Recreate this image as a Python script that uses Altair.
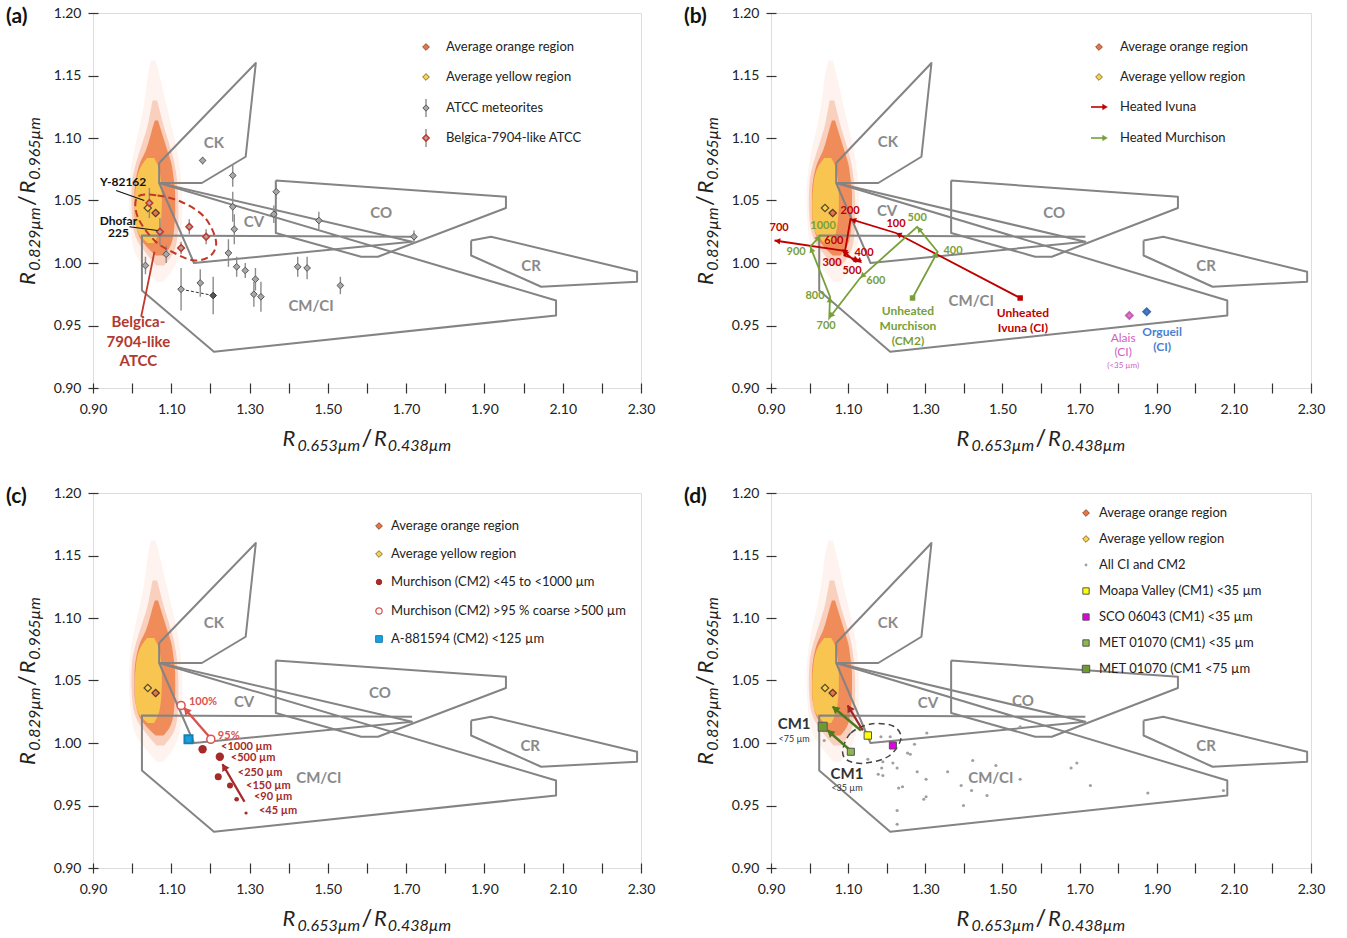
import math
import altair as alt
import pandas as pd

FONT = "Lato"
W_L, W_R, H = 548, 540, 375
XT = [0.9, 1.0, 1.1, 1.2, 1.3, 1.4, 1.5, 1.6, 1.7, 1.8, 1.9, 2.0, 2.1, 2.2, 2.3]
YT = [0.90, 0.95, 1.00, 1.05, 1.10, 1.15, 1.20]

XS = alt.Scale(domain=[0.9, 2.3], nice=False, zero=False)
YS = alt.Scale(domain=[0.9, 1.2], nice=False, zero=False)
XAX = alt.Axis(values=XT, labelExpr="round(datum.value*10) % 2 == 1 ? format(datum.value, '.2f') : ''",
               tickSize=10, offset=-5, domain=False, grid=False, title=None, labelFontSize=14,
               labelFont=FONT, labelColor="#222", tickColor="#333", tickWidth=1.2, labelPadding=9,
               labelFlush=False, labelOverlap=False)
YAX = alt.Axis(values=YT, format=".2f", tickSize=10, offset=-5, domain=False, grid=False, title=None,
               labelFontSize=14, labelFont=FONT, labelColor="#222", tickColor="#333", tickWidth=1.2,
               labelPadding=7, labelFlush=False, labelOverlap=False)

# ---------------- common data: spectral cloud ----------------
halo_y = [0.985, 0.995, 1.010, 1.030, 1.050, 1.070, 1.090, 1.110, 1.130, 1.150, 1.162]
halo_xl = [1.062, 1.035, 1.005, 0.995, 0.992, 0.995, 1.005, 1.020, 1.032, 1.040, 1.048]
halo_xr = [1.080, 1.105, 1.122, 1.128, 1.128, 1.124, 1.115, 1.100, 1.085, 1.070, 1.060]
mid_y = [0.998, 1.008, 1.020, 1.035, 1.050, 1.065, 1.080, 1.095, 1.108, 1.120, 1.130]
mid_xl = [1.062, 1.035, 1.010, 1.000, 0.998, 1.000, 1.010, 1.025, 1.038, 1.046, 1.052]
mid_xr = [1.082, 1.105, 1.115, 1.118, 1.118, 1.115, 1.108, 1.095, 1.082, 1.072, 1.064]
org_y = [1.006, 1.012, 1.020, 1.030, 1.040, 1.055, 1.068, 1.080, 1.090, 1.100, 1.108, 1.114]
org_xl = [1.060, 1.040, 1.020, 1.010, 1.006, 1.006, 1.010, 1.020, 1.035, 1.045, 1.052, 1.058]
org_xr = [1.080, 1.095, 1.104, 1.108, 1.110, 1.110, 1.106, 1.100, 1.090, 1.080, 1.072, 1.066]
yel_y = [1.016, 1.022, 1.030, 1.040, 1.050, 1.060, 1.070, 1.078, 1.084]
yel_xl = [1.040, 1.020, 1.010, 1.007, 1.007, 1.009, 1.014, 1.024, 1.038]
yel_xr = [1.056, 1.066, 1.072, 1.075, 1.076, 1.075, 1.072, 1.066, 1.056]

avg_names = ["orange", "yellow"]
avg_x = [1.060, 1.040]
avg_y = [1.040, 1.044]

# ---------------- classification fields ----------------
poly = {
    "CK": ([1.069, 1.316, 1.290, 1.178, 1.069, 1.069], [1.080, 1.160, 1.085, 1.064, 1.064, 1.080]),
    "CV": ([1.069, 1.158, 1.715, 1.069], [1.064, 1.000, 1.017, 1.064]),
    "CMCI": ([1.069, 2.083, 2.083, 1.209, 1.025, 1.025, 1.715],
             [1.064, 0.970, 0.958, 0.929, 0.978, 1.022, 1.021]),
    "CO": ([1.367, 1.955, 1.955, 1.628, 1.585, 1.367, 1.367], [1.066, 1.053, 1.044, 1.005, 1.005, 1.024, 1.066]),
    "CR": ([1.866, 1.917, 2.290, 2.290, 2.045, 1.866, 1.866], [1.018, 1.021, 0.993, 0.985, 0.981, 1.006, 1.018]),
}
region_names = ["CK", "CV", "CO", "CR", "CM/CI"]
region_pos = {
    "a": ([1.209, 1.311, 1.636, 2.019, 1.457], [1.096, 1.033, 1.040, 0.998, 0.966]),
    "b": ([1.203, 1.201, 1.634, 2.028, 1.419], [1.097, 1.042, 1.040, 0.998, 0.970]),
    "c": ([1.209, 1.286, 1.633, 2.017, 1.477], [1.096, 1.033, 1.040, 0.998, 0.972]),
    "d": ([1.203, 1.307, 1.553, 2.028, 1.470], [1.096, 1.032, 1.034, 0.998, 0.972]),
}

# ---------------- panel (a) ----------------
atcc_x = [1.180, 1.257, 1.368, 1.362, 1.477, 1.257, 1.261, 1.246, 1.267, 1.289, 1.315, 1.311, 1.329, 1.423,
          1.447, 1.532, 1.720, 1.087, 1.034, 1.174, 1.125, 1.207]
atcc_y = [1.082, 1.070, 1.057, 1.039, 1.034, 1.045, 1.027, 1.008, 0.997, 0.994, 0.987, 0.975, 0.973, 0.997,
          0.996, 0.982, 1.021, 1.007, 0.998, 0.984, 0.979, 0.974]
atcc_e = [0.003, 0.009, 0.006, 0.007, 0.007, 0.012, 0.012, 0.011, 0.008, 0.006, 0.009, 0.010, 0.012, 0.008,
          0.009, 0.007, 0.005, 0.007, 0.007, 0.011, 0.017, 0.015]
atcc_dark = [0] * 21 + [1]
belg_x = [1.044, 1.071, 1.146, 1.189, 1.125]
belg_y = [1.048, 1.025, 1.029, 1.021, 1.012]
belg_e = [0.012, 0.011, 0.006, 0.006, 0.005]
ell_a_x = [1.014, 1.065, 1.125, 1.184, 1.214, 1.201, 1.159, 1.108, 1.057, 1.014]
ell_a_y = [1.053, 1.054, 1.049, 1.037, 1.018, 1.006, 1.002, 1.008, 1.018, 1.037]

# ---------------- panel (b) ----------------
ivu_t = ["Unheated", "100", "200", "300", "400", "500", "600", "700"]
ivu_x = [1.546, 1.224, 1.106, 1.090, 1.129, 1.119, 1.086, 0.909]
ivu_y = [0.972, 1.024, 1.035, 1.006, 1.002, 1.001, 1.010, 1.018]
ivu_lx = [None, 1.224, 1.105, 1.058, 1.141, 1.110, 1.063, 0.921]
ivu_ly = [None, 1.031, 1.042, 1.000, 1.008, 0.994, 1.018, 1.028]
mur_t = ["Unheated", "400", "500", "600", "700", "800", "900", "1000"]
mur_x = [1.267, 1.332, 1.279, 1.131, 1.051, 1.053, 1.002, 1.028]
mur_y = [0.972, 1.009, 1.029, 0.988, 0.956, 0.973, 1.013, 1.022]
mur_lx = [None, 1.372, 1.279, 1.172, 1.043, 1.014, 0.965, 1.035]
mur_ly = [None, 1.010, 1.036, 0.986, 0.950, 0.974, 1.009, 1.030]
ci_names = ["Alais", "Orgueil"]
ci_x = [1.829, 1.874]
ci_y = [0.958, 0.961]

# ---------------- panel (c) ----------------
mfine_t = ["<1000 µm", "<500 µm", "<250 µm", "<150 µm", "<90 µm", "<45 µm"]
mfine_x = [1.180, 1.224, 1.220, 1.250, 1.267, 1.291]
mfine_y = [0.995, 0.989, 0.973, 0.966, 0.955, 0.944]
mfine_s = [70, 70, 50, 36, 22, 10]
mfine_lx = [1.227, 1.252, 1.270, 1.291, 1.311, 1.324]
mfine_ly = [0.997, 0.988, 0.976, 0.966, 0.957, 0.946]
mcoarse_t = ["100%", "95%"]
mcoarse_x = [1.125, 1.201]
mcoarse_y = [1.030, 1.003]
mcoarse_lx = [1.145, 1.219]
mcoarse_ly = [1.033, 1.006]
a88_x = [1.144]
a88_y = [1.003]

# ---------------- panel (d) ----------------
all_x = [1.038, 1.304, 1.185, 1.209, 1.272, 1.254, 1.261, 1.151, 1.190, 1.216, 1.187, 1.227, 1.178, 1.190,
         1.279, 1.358, 1.302, 1.423, 1.483, 1.546, 1.546, 1.393, 1.231, 1.241, 1.420, 1.460, 1.296, 1.302,
         1.399, 1.227, 1.227, 1.678, 1.693, 1.728, 1.877, 2.073]
all_y = [1.002, 1.008, 1.005, 1.005, 0.999, 0.992, 0.991, 0.987, 0.985, 0.984, 0.980, 0.980, 0.975, 0.974,
         0.977, 0.977, 0.971, 0.986, 0.982, 1.013, 0.971, 0.966, 0.964, 0.965, 0.962, 0.958, 0.955, 0.957,
         0.950, 0.946, 0.935, 0.980, 0.984, 0.966, 0.960, 0.962]
cm1_names = ["Moapa Valley", "SCO 06043", "MET 01070 <35", "MET 01070 <75"]
cm1_x = [1.151, 1.216, 1.107, 1.034]
cm1_y = [1.006, 0.998, 0.993, 1.013]
cm1_fill = ["#ffff00", "#e000e0", "#8db84a", "#6f9a32"]
cm1_size = [55, 50, 50, 80]
ell_d_x = [1.086, 1.107, 1.159, 1.216, 1.237, 1.206, 1.142, 1.097]
ell_d_y = [0.9944, 1.008, 1.0152, 1.0136, 1.0038, 0.9896, 0.9838, 0.9864]

ONE = pd.DataFrame({"a": [0]})


def xy(xf="x", yf="y"):
    return dict(x=alt.X(f"{xf}:Q", scale=XS, axis=XAX), y=alt.Y(f"{yf}:Q", scale=YS, axis=YAX))


def ptext(t, px, py, size=13, color="#222", weight="normal", align="left", style="normal",
          angle=0, dx=0, dy=0, baseline="middle"):
    return alt.Chart(ONE).mark_text(text=t, font=FONT, fontSize=size, color=color, fontWeight=weight,
                                    align=align, fontStyle=style, angle=angle, dx=dx, dy=dy,
                                    baseline=baseline).encode(x=alt.value(px), y=alt.value(py))


def psym(px, py, shape, size, fill, stroke, sw=1.0, angle=0):
    return alt.Chart(ONE).mark_point(shape=shape, size=size, filled=True, fill=fill, stroke=stroke,
                                     strokeWidth=sw, opacity=1, angle=angle).encode(
        x=alt.value(px), y=alt.value(py))


def prule(x1, y1, x2, y2, color, sw=1.5):
    return alt.Chart(ONE).mark_rule(color=color, strokeWidth=sw).encode(
        x=alt.value(x1), y=alt.value(y1), x2=alt.value(x2), y2=alt.value(y2))


CW = {"R": 0.63, ".": 0.25, "µ": 0.6, "m": 0.87}
RS, SS, GAP = 22, 16, 7


def tw(s, size):
    return sum(CW.get(c, 0.58) for c in s) * size


def xtitle(W):
    cx, by = W / 2, H + 58
    s1, s2 = "0.653µm", "0.438µm"
    return [
        ptext("/", cx, by, size=24, align="center", baseline="alphabetic"),
        ptext(s1, cx - GAP, by, size=SS, align="right", style="italic", dy=5, baseline="alphabetic"),
        ptext("R", cx - GAP - tw(s1, SS), by, size=RS, align="right", style="italic", baseline="alphabetic"),
        ptext("R", cx + GAP, by, size=RS, align="left", style="italic", baseline="alphabetic"),
        ptext(s2, cx + GAP + tw("R", RS), by, size=SS, align="left", style="italic", dy=5, baseline="alphabetic"),
    ]


def ytitle():
    bx, cy = -58, H / 2
    s1, s2 = "0.829µm", "0.965µm"
    return [
        ptext("/", bx, cy, size=24, align="center", angle=270, baseline="alphabetic"),
        ptext(s1, bx, cy, size=SS, align="right", style="italic", angle=270, dx=-GAP, dy=5, baseline="alphabetic"),
        ptext("R", bx, cy, size=RS, align="right", style="italic", angle=270, dx=-GAP - tw(s1, SS),
              baseline="alphabetic"),
        ptext("R", bx, cy, size=RS, align="left", style="italic", angle=270, dx=GAP, baseline="alphabetic"),
        ptext(s2, bx, cy, size=SS, align="left", style="italic", angle=270, dx=GAP + tw("R", RS), dy=5,
              baseline="alphabetic"),
    ]


def heads_df(xs, ys, W, back=3.0):
    sx, sy = W / 1.4, H / 0.3
    rows = []
    for i in range(1, len(xs)):
        ux = (xs[i] - xs[i - 1]) * sx
        uy = -(ys[i] - ys[i - 1]) * sy
        L = math.hypot(ux, uy)
        ang = math.degrees(math.atan2(ux, -uy)) % 360
        rows.append({"x": xs[i] - ux / L * back / sx, "y": ys[i] + uy / L * back / sy, "ang": ang})
    return pd.DataFrame(rows)


def arrow(xs, ys, W, color, sw=2.2, size=60):
    df = pd.DataFrame({"x": xs, "y": ys, "o": list(range(len(xs)))})
    line = alt.Chart(df).mark_line(color=color, strokeWidth=sw).encode(**xy(), order="o:Q")
    head = alt.Chart(heads_df(xs, ys, W)).mark_point(shape="triangle-up", filled=True, size=size, color=color,
                                                     opacity=1).encode(
        **xy(), angle=alt.Angle("ang:Q", scale=None))
    return [line, head]


def common(W, key):
    L = []
    for ys_, xl, xr, col, op in [(halo_y, halo_xl, halo_xr, "#f7b08a", 0.15),
                                 (mid_y, mid_xl, mid_xr, "#f29060", 0.35),
                                 (org_y, org_xl, org_xr, "#ef8048", 0.85),
                                 (yel_y, yel_xl, yel_xr, "#f8c850", 0.95)]:
        df = pd.DataFrame({"y": ys_, "xl": xl, "xr": xr})
        L.append(alt.Chart(df).mark_area(orient="horizontal", interpolate="monotone", color=col, opacity=op)
                 .encode(y=alt.Y("y:Q", scale=YS, axis=YAX), x=alt.X("xl:Q", scale=XS, axis=XAX), x2="xr:Q"))
    rows = []
    for name, (px_, py_) in poly.items():
        for i, (a, b) in enumerate(zip(px_, py_)):
            rows.append({"id": name, "o": i, "x": a, "y": b})
    L.append(alt.Chart(pd.DataFrame(rows)).mark_line(color="#848484", strokeWidth=2, strokeJoin="round")
             .encode(**xy(), detail="id:N", order="o:Q"))
    rx, ry = region_pos[key]
    L.append(alt.Chart(pd.DataFrame({"x": rx, "y": ry, "t": region_names}))
             .mark_text(font=FONT, fontSize=15, fontWeight="bold", color="#8a8a8a")
             .encode(**xy(), text="t:N"))
    return L


def avg_layers():
    df = pd.DataFrame({"x": avg_x, "y": avg_y, "n": avg_names})
    return [alt.Chart(df[df.n == "yellow"]).mark_point(shape="diamond", filled=True, size=55, fill="#f8d24e",
                                                       stroke="#5a4a2a", strokeWidth=1.2, opacity=1).encode(**xy()),
            alt.Chart(df[df.n == "orange"]).mark_point(shape="diamond", filled=True, size=55, fill="#e8744a",
                                                       stroke="#5a3a2a", strokeWidth=1.2, opacity=1).encode(**xy())]


def legend_avg(sx, tx, y0, y1):
    return [psym(sx, y0, "diamond", 45, "#e8744a", "#8a5030"),
            ptext("Average orange region", tx, y0),
            psym(sx, y1, "diamond", 45, "#f8d24e", "#8a7030"),
            ptext("Average yellow region", tx, y1)]


def finish(layers, W, tag):
    layers = layers + xtitle(W) + ytitle() + [ptext(tag, -87, 4, size=21, weight="bold", color="#111")]
    return alt.layer(*layers).properties(width=W, height=H)


# ---------- panel a ----------
A = common(W_L, "a")
da = pd.DataFrame({"x": atcc_x, "y": atcc_y, "lo": [a - e for a, e in zip(atcc_y, atcc_e)],
                   "hi": [a + e for a, e in zip(atcc_y, atcc_e)], "dark": atcc_dark})
db = pd.DataFrame({"x": belg_x, "y": belg_y, "lo": [a - e for a, e in zip(belg_y, belg_e)],
                   "hi": [a + e for a, e in zip(belg_y, belg_e)]})
A.append(alt.Chart(pd.DataFrame({"x": [atcc_x[20], atcc_x[21]], "y": [atcc_y[20], atcc_y[21]]}))
         .mark_line(color="#333", strokeWidth=1, strokeDash=[3, 2]).encode(**xy()))
A.append(alt.Chart(da).mark_rule(color="#8c8c8c", strokeWidth=1.4).encode(
    x=alt.X("x:Q", scale=XS, axis=XAX), y=alt.Y("lo:Q", scale=YS, axis=YAX), y2="hi:Q"))
A.append(alt.Chart(db).mark_rule(color="#8c8c8c", strokeWidth=1.4).encode(
    x=alt.X("x:Q", scale=XS, axis=XAX), y=alt.Y("lo:Q", scale=YS, axis=YAX), y2="hi:Q"))
ell = pd.DataFrame({"x": ell_a_x, "y": ell_a_y, "o": list(range(len(ell_a_x)))})
A.append(alt.Chart(ell).mark_line(color="#c0392b", strokeWidth=2, strokeDash=[7, 4],
                                  interpolate="cardinal-closed").encode(**xy(), order="o:Q"))
A += avg_layers()
A.append(alt.Chart(da[da.dark == 0]).mark_point(shape="diamond", filled=True, size=45, fill="#a8a8a8",
                                                stroke="#555", strokeWidth=1, opacity=1).encode(**xy()))
A.append(alt.Chart(da[da.dark == 1]).mark_point(shape="diamond", filled=True, size=45, fill="#555",
                                                stroke="#333", strokeWidth=1, opacity=1).encode(**xy()))
A.append(alt.Chart(db).mark_point(shape="diamond", filled=True, size=45, fill="#b0a0a0",
                                  stroke="#c0392b", strokeWidth=1.5, opacity=1).encode(**xy()))
ann_a = pd.DataFrame({"x": [0.959, 1.031, 0.993, 1.065, 1.023, 1.057],
                      "y": [1.058, 1.050, 1.029, 1.026, 0.957, 1.009],
                      "g": ["y", "y", "d", "d", "b", "b"], "c": ["k", "k", "k", "k", "r", "r"]})
A.append(alt.Chart(ann_a[ann_a.c == "k"]).mark_line(color="#111", strokeWidth=1.2).encode(**xy(), detail="g:N"))
A.append(alt.Chart(ann_a[ann_a.c == "r"]).mark_line(color="#c0392b", strokeWidth=1.8).encode(**xy(), detail="g:N"))
lab_a = pd.DataFrame({"x": [0.977, 0.965, 0.965], "y": [1.065, 1.034, 1.024], "t": ["Y-82162", "Dhofar", "225"]})
A.append(alt.Chart(lab_a).mark_text(font=FONT, fontSize=12, fontWeight="bold", color="#111").encode(**xy(), text="t:N"))
lab_b = pd.DataFrame({"x": [1.016, 1.016, 1.016], "y": [0.953, 0.937, 0.922],
                      "t": ["Belgica-", "7904-like", "ATCC"]})
A.append(alt.Chart(lab_b).mark_text(font=FONT, fontSize=15, fontWeight="bold", color="#b03a2e").encode(**xy(), text="t:N"))
A += legend_avg(333, 353, 34, 64)
A += [prule(333, 86, 333, 104, "#8c8c8c", 1.4), psym(333, 95, "diamond", 40, "#a8a8a8", "#555"),
      ptext("ATCC meteorites", 353, 95),
      prule(333, 116, 333, 134, "#8c8c8c", 1.4), psym(333, 125, "diamond", 40, "#b0a0a0", "#c0392b", 1.5),
      ptext("Belgica-7904-like ATCC", 353, 125)]
PA = finish(A, W_L, "(a)")

# ---------- panel b ----------
B = common(W_R, "b")
RED, GRN = "#c00000", "#77a03a"
B += arrow(ivu_x, ivu_y, W_R, RED, sw=1.8, size=40)
B += arrow(mur_x, mur_y, W_R, GRN, sw=1.8, size=40)
B.append(alt.Chart(pd.DataFrame({"x": [ivu_x[0]], "y": [ivu_y[0]]})).mark_point(
    shape="square", filled=True, size=30, color=RED, opacity=1).encode(**xy()))
B.append(alt.Chart(pd.DataFrame({"x": [mur_x[0]], "y": [mur_y[0]]})).mark_point(
    shape="square", filled=True, size=30, color=GRN, opacity=1).encode(**xy()))
B.append(alt.Chart(pd.DataFrame({"x": ivu_lx[1:], "y": ivu_ly[1:], "t": ivu_t[1:]})).mark_text(
    font=FONT, fontSize=11, fontWeight="bold", color=RED).encode(**xy(), text="t:N"))
B.append(alt.Chart(pd.DataFrame({"x": mur_lx[1:], "y": mur_ly[1:], "t": mur_t[1:]})).mark_text(
    font=FONT, fontSize=11, fontWeight="bold", color=GRN).encode(**xy(), text="t:N"))
B.append(alt.Chart(pd.DataFrame({"x": [1.255] * 3, "y": [0.962, 0.950, 0.938],
                                 "t": ["Unheated", "Murchison", "(CM2)"]})).mark_text(
    font=FONT, fontSize=12, fontWeight="bold", color=GRN).encode(**xy(), text="t:N"))
B.append(alt.Chart(pd.DataFrame({"x": [1.553] * 2, "y": [0.960, 0.948],
                                 "t": ["Unheated", "Ivuna (CI)"]})).mark_text(
    font=FONT, fontSize=12, fontWeight="bold", color=RED).encode(**xy(), text="t:N"))
dci = pd.DataFrame({"x": ci_x, "y": ci_y, "n": ci_names})
B.append(alt.Chart(dci[dci.n == "Alais"]).mark_point(shape="diamond", filled=True, size=45, fill="#e07ad0",
                                                     stroke="#c060b0", opacity=1).encode(**xy()))
B.append(alt.Chart(dci[dci.n == "Orgueil"]).mark_point(shape="diamond", filled=True, size=45, fill="#4a7fd0",
                                                       stroke="#3a6ab0", opacity=1).encode(**xy()))
B.append(alt.Chart(pd.DataFrame({"x": [1.813, 1.813], "y": [0.940, 0.929], "t": ["Alais", "(CI)"]})).mark_text(
    font=FONT, fontSize=12, color="#d060c0").encode(**xy(), text="t:N"))
B.append(alt.Chart(pd.DataFrame({"x": [1.813], "y": [0.918], "t": ["(<35 µm)"]})).mark_text(
    font=FONT, fontSize=8, color="#d060c0").encode(**xy(), text="t:N"))
B.append(alt.Chart(pd.DataFrame({"x": [1.914, 1.914], "y": [0.945, 0.933], "t": ["Orgueil", "(CI)"]})).mark_text(
    font=FONT, fontSize=12, fontWeight="bold", color="#4a7fd0").encode(**xy(), text="t:N"))
B += avg_layers()
B += legend_avg(328, 349, 34, 64)
B += [prule(320, 94, 334, 94, RED, 1.6), psym(334, 94, "triangle-right", 30, RED, RED, 0.5),
      ptext("Heated Ivuna", 349, 94),
      prule(320, 125, 334, 125, GRN, 1.6), psym(334, 125, "triangle-right", 30, GRN, GRN, 0.5),
      ptext("Heated Murchison", 349, 125)]
PB = finish(B, W_R, "(b)")

# ---------- panel c ----------
C = common(W_L, "c")
C += avg_layers()
DR = "#a52a2a"
C += arrow([1.287, 1.231], [0.953, 0.983], W_L, DR, sw=2.4, size=70)
C += arrow([1.197, 1.133], [1.005, 1.028], W_L, "#d9534f", sw=2.4, size=70)
dmf = pd.DataFrame({"x": mfine_x, "y": mfine_y, "s": mfine_s, "t": mfine_t, "lx": mfine_lx, "ly": mfine_ly})
C.append(alt.Chart(dmf).mark_circle(color=DR, opacity=1).encode(**xy(), size=alt.Size("s:Q", scale=None)))
C.append(alt.Chart(dmf).mark_text(font=FONT, fontSize=11, fontWeight="bold", color=DR, align="left").encode(
    **xy("lx", "ly"), text="t:N"))
dmc = pd.DataFrame({"x": mcoarse_x, "y": mcoarse_y, "t": mcoarse_t, "lx": mcoarse_lx, "ly": mcoarse_ly})
C.append(alt.Chart(dmc).mark_point(shape="circle", filled=True, fill="white", stroke="#d9534f", strokeWidth=1.5,
                                   size=65, opacity=1).encode(**xy()))
C.append(alt.Chart(dmc).mark_text(font=FONT, fontSize=11, fontWeight="bold", color="#d9534f", align="left").encode(
    **xy("lx", "ly"), text="t:N"))
C.append(alt.Chart(pd.DataFrame({"x": a88_x, "y": a88_y})).mark_point(shape="square", filled=True, size=65,
                                                                       fill="#1aa0e0", stroke="#1780b0",
                                                                       opacity=1).encode(**xy()))
C += legend_avg(286, 298, 33, 61)
C += [psym(286, 89, "circle", 30, DR, DR), ptext("Murchison (CM2) <45 to <1000 µm", 298, 89),
      psym(286, 118, "circle", 40, "white", "#d9534f", 1.3), ptext("Murchison (CM2) >95 % coarse >500 µm", 298, 118),
      psym(286, 146, "square", 45, "#1aa0e0", "#1780b0"), ptext("A-881594 (CM2) <125 µm", 298, 146)]
PC = finish(C, W_L, "(c)")

# ---------- panel d ----------
D = common(W_R, "d")
D += avg_layers()
D.append(alt.Chart(pd.DataFrame({"x": all_x, "y": all_y})).mark_circle(color="#a0a0a0", size=10, opacity=1)
         .encode(**xy()))
ed = pd.DataFrame({"x": ell_d_x, "y": ell_d_y, "o": list(range(len(ell_d_x)))})
D.append(alt.Chart(ed).mark_line(color="#444", strokeWidth=1.5, strokeDash=[6, 4],
                                 interpolate="cardinal-closed").encode(**xy(), order="o:Q"))
D += arrow([1.138, 1.099], [1.010, 1.030], W_R, "#a0282a", sw=2.4, size=70)
D += arrow([1.133, 1.060], [1.010, 1.029], W_R, "#4e7a1e", sw=2.4, size=70)
D += arrow([1.106, 1.047], [0.994, 1.010], W_R, "#4e7a1e", sw=2.4, size=70)
dcm = pd.DataFrame({"x": cm1_x, "y": cm1_y, "n": cm1_names})
for i in range(4):
    D.append(alt.Chart(dcm.iloc[[i]]).mark_point(shape="square", filled=True, size=cm1_size[i], fill=cm1_fill[i],
                                                 stroke="#555", strokeWidth=1, opacity=1).encode(**xy()))
D.append(alt.Chart(pd.DataFrame({"x": [0.960, 1.097], "y": [1.015, 0.975], "t": ["CM1", "CM1"]})).mark_text(
    font=FONT, fontSize=15, fontWeight="bold", color="#333").encode(**xy(), text="t:N"))
D.append(alt.Chart(pd.DataFrame({"x": [0.960, 1.097], "y": [1.003, 0.964], "t": ["<75 µm", "<35 µm"]})).mark_text(
    font=FONT, fontSize=9, color="#333").encode(**xy(), text="t:N"))
D += legend_avg(315, 328, 20, 46)
leg_d = ["All CI and CM2", "Moapa Valley (CM1) <35 µm", "SCO 06043 (CM1) <35 µm", "MET 01070 (CM1) <35 µm",
         "MET 01070 (CM1 <75 µm"]
D += [psym(315, 72, "circle", 8, "#a0a0a0", "#a0a0a0", 0), ptext(leg_d[0], 328, 72)]
for i in range(4):
    yy = 98 + 26 * i
    D += [psym(315, yy, "square", 40 if i < 3 else 55, cm1_fill[i], "#555"), ptext(leg_d[i + 1], 328, yy)]
PD = finish(D, W_R, "(d)")

chart = alt.concat(PA, PB, PC, PD, columns=2, bounds="flush",
                   spacing=alt.RowColnumber(row=105, column=130)
                   ).configure_view(stroke="#3a3a3a", strokeWidth=1.5).configure(font=FONT)

chart.save("out.html", embed_options={"renderer": "svg", "actions": False})
